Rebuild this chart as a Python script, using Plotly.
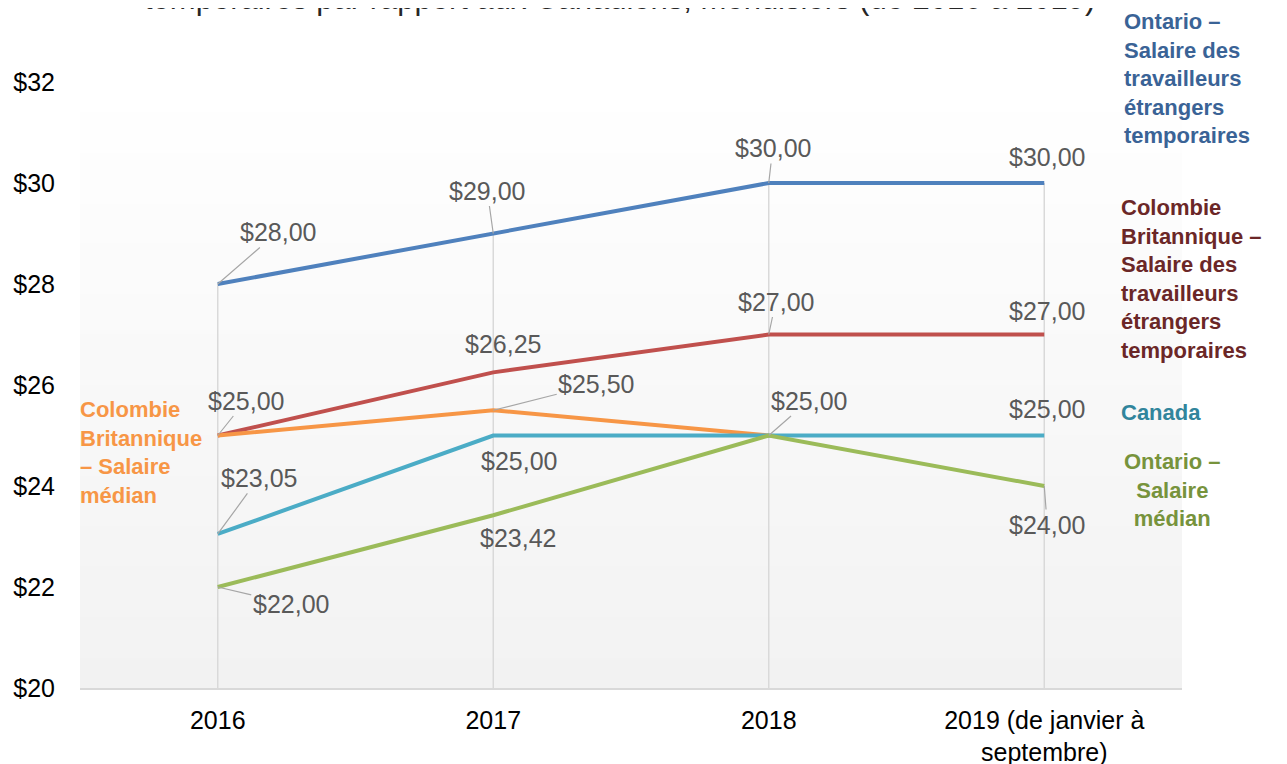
import plotly.graph_objects as go

# ---- data ----
categories = ["2016", "2017", "2018", "2019 (de janvier à<br>septembre)"]
ontario_tet = [28.00, 29.00, 30.00, 30.00]
cb_tet = [25.00, 26.25, 27.00, 27.00]
cb_median = [25.00, 25.50, 25.00, None]
canada = [23.05, 25.00, 25.00, 25.00]
ontario_median = [22.00, 23.42, 25.00, 24.00]
y_ticks = [20, 22, 24, 26, 28, 30, 32]

series = [
    ("Ontario – Salaire des travailleurs étrangers temporaires", ontario_tet, "#4f81bd"),
    ("Colombie Britannique – Salaire des travailleurs étrangers temporaires", cb_tet, "#c0504d"),
    ("Colombie Britannique – Salaire médian", cb_median, "#f79646"),
    ("Canada", canada, "#4bacc6"),
    ("Ontario – Salaire médian", ontario_median, "#9bbb59"),
]

# label placement (pixel offsets of label centre from the point, leader flag); None = hidden
label_pos = [
    [(60, -52, True), (-6, -43, True), (4, -35, True), (3, -26, False)],
    [(28, -35, True), (10, -28, False), (7, -33, True), (3, -24, False)],
    [None, (103, -26, True), None, None],
    [(41, -56, True), (26, 25, False), (40, -35, True), (3, -27, False)],
    [(73, 17, True), (25, 23, False), None, (3, 39, True)],
]

fig = go.Figure()

# drop lines from highest value down to the axis
xs, ys = [], []
for i, c in enumerate(categories):
    vals = [s[1][i] for s in series if s[1][i] is not None]
    xs += [i, i, None]
    ys += [y_ticks[0], max(vals), None]
fig.add_trace(go.Scatter(x=xs, y=ys, mode="lines", line=dict(color="#d9d9d9", width=1.5),
                         hoverinfo="skip", showlegend=False))

idx = list(range(len(categories)))
for name, vals, col in series:
    fig.add_trace(go.Scatter(x=idx, y=vals, mode="lines", name=name,
                             line=dict(color=col, width=4), showlegend=False))

def fmt(v):
    return ("$%.2f" % v).replace(".", ",")

for (name, vals, col), poss in zip(series, label_pos):
    for i, p in enumerate(poss):
        if p is None or vals[i] is None:
            continue
        ax, ay, leader = p
        fig.add_annotation(x=i, y=vals[i], text=fmt(vals[i]),
                           showarrow=True, ax=ax, ay=ay, arrowhead=0, standoff=0,
                           arrowwidth=1.2,
                           arrowcolor="#a6a6a6" if leader else "rgba(0,0,0,0)",
                           font=dict(family="Liberation Sans, Arial", size=25, color="#595959"))

# gradient plot background
n = 60
for k in range(n):
    t = k / (n - 1)
    g = int(round(242 + (255 - 242) * t))
    fig.add_shape(type="rect", xref="x domain", yref="y domain", x0=0, x1=1,
                  y0=k / n, y1=(k + 1) / n + 0.002, layer="below",
                  line=dict(width=0), fillcolor=f"rgb({g},{g},{g})")

# series name labels
lab_font = "Liberation Sans, Arial"
fig.add_annotation(xref="paper", yref="paper", x=0.9455, y=1.005, xanchor="left", yanchor="middle",
                   align="left", showarrow=False,
                   text="<b>Ontario –<br>Salaire des<br>travailleurs<br>étrangers<br>temporaires</b>",
                   font=dict(family=lab_font, size=22, color="#3a6396"))
fig.add_annotation(xref="paper", yref="paper", x=0.943, y=0.675, xanchor="left", yanchor="middle",
                   align="left", showarrow=False,
                   text="<b>Colombie<br>Britannique –<br>Salaire des<br>travailleurs<br>étrangers<br>temporaires</b>",
                   font=dict(family=lab_font, size=22, color="#6b2727"))
fig.add_annotation(xref="paper", yref="paper", x=0.943, y=0.4554, xanchor="left", yanchor="middle",
                   align="left", showarrow=False, text="<b>Canada</b>",
                   font=dict(family=lab_font, size=22, color="#31859c"))
fig.add_annotation(xref="paper", yref="paper", x=0.991, y=0.326, xanchor="center", yanchor="middle",
                   align="center", showarrow=False, text="<b>Ontario –<br>Salaire<br>médian</b>",
                   font=dict(family=lab_font, size=22, color="#77933c"))
fig.add_annotation(xref="paper", yref="paper", x=-0.002, y=0.3886, xanchor="left", yanchor="middle",
                   align="left", showarrow=False,
                   text="<b>Colombie<br>Britannique<br>– Salaire<br>médian</b>",
                   font=dict(family=lab_font, size=22, color="#f79646"))

# clipped title line (the reference shows only the lower part of this line)
fig.add_annotation(xref="paper", yref="paper", x=0.49, y=1.1386, xanchor="center", yanchor="middle",
                   showarrow=False,
                   text="temporaires par rapport aux Canadiens, menuisiers (de 2016 à 2019)",
                   font=dict(family=lab_font, size=31, color="#262626"))

# page body adds an 8px margin: figure shrunk/shifted to keep the plot where the reference has it
fig.update_layout(
    width=1279, height=756,
    margin=dict(l=72, r=105, t=74, b=76),
    paper_bgcolor="white", plot_bgcolor="white",
    showlegend=False, hovermode=False,
    font=dict(family="Liberation Sans, Arial", size=25, color="black"),
)
fig.update_xaxes(range=[-0.5, 3.5], tickvals=idx, ticktext=categories,
                 showgrid=False, zeroline=False, automargin=False,
                 showline=True, linecolor="#d9d9d9", linewidth=1.5, ticks="",
                 ticklabelstandoff=9, tickfont=dict(size=25, color="black"))
fig.update_yaxes(range=[20, 32], tickvals=y_ticks, ticktext=["$%d" % v for v in y_ticks],
                 showgrid=False, automargin=False,
                 zeroline=False, showline=False, ticks="", ticklabelstandoff=24,
                 tickfont=dict(size=25, color="black"))

fig.write_html("out.html")
